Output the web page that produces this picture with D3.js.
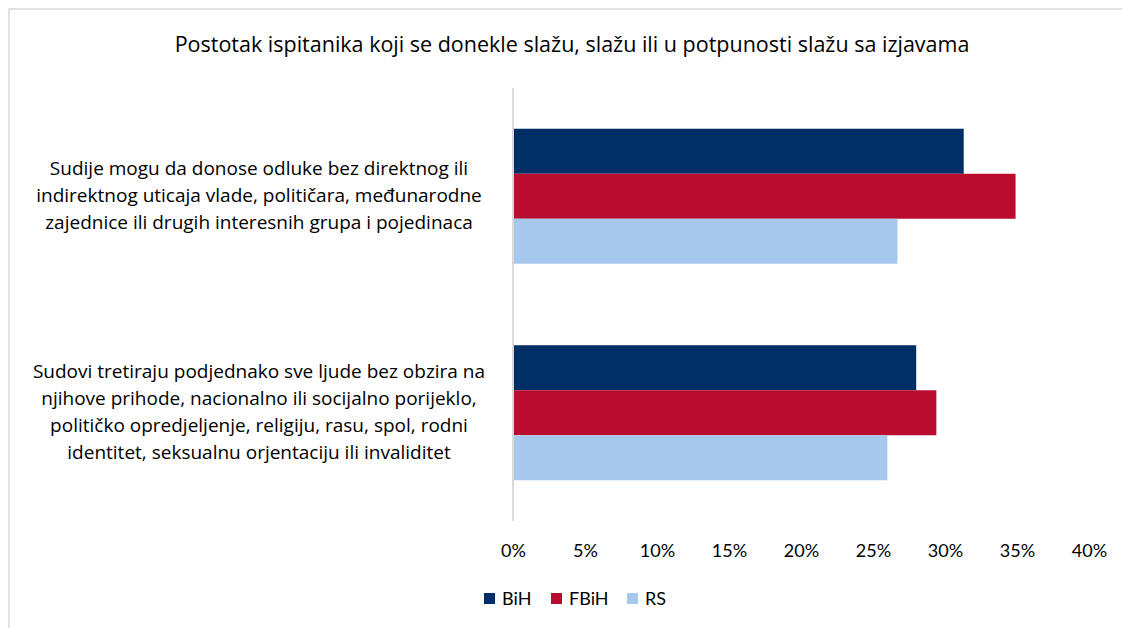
<!DOCTYPE html>
<html>
<head>
<meta charset="utf-8">
<script src="https://cdn.jsdelivr.net/npm/d3@7"></script>
<style>
  body { margin: 0; background: #fff; }
  text { font-family: "Open Sans", "Lato", sans-serif; fill: #000; }
</style>
</head>
<body>
<div id="chart"></div>
<script>
// podaci sa slike
var categories = [
  ["Sudije mogu da donose odluke bez direktnog ili",
   "indirektnog uticaja vlade, političara, međunarodne",
   "zajednice ili drugih interesnih grupa i pojedinaca"],
  ["Sudovi tretiraju podjednako sve ljude bez obzira na",
   "njihove prihode, nacionalno ili socijalno porijeklo,",
   "političko opredjeljenje, religiju, rasu, spol, rodni",
   "identitet, seksualnu orjentaciju ili invaliditet"]
];
var seriesNames = ["BiH", "FBiH", "RS"];
var seriesColors = ["#002e67", "#ba0c2f", "#a6c8ed"];
var valuesBiH = [31.3, 28.0];
var valuesFBiH = [34.9, 29.4];
var valuesRS = [26.7, 26.0];
var tickValues = [0, 5, 10, 15, 20, 25, 30, 35, 40];
var title = "Postotak ispitanika koji se donekle slažu, slažu ili u potpunosti slažu sa izjavama";

var width = 1122, height = 628;
var seriesValues = [valuesBiH, valuesFBiH, valuesRS];

var svg = d3.select("#chart").append("svg")
  .attr("width", width)
  .attr("height", height);

// okvir
svg.append("rect")
  .attr("x", 9).attr("y", 9)
  .attr("width", width + 10).attr("height", height)
  .attr("fill", "none")
  .attr("stroke", "#d9d9d9")
  .attr("stroke-width", 1.5);

svg.append("text")
  .attr("x", 572).attr("y", 52)
  .attr("text-anchor", "middle")
  .style("font-size", "21.5px")
  .text(title);

var x = d3.scaleLinear().domain([0, 40]).range([513, 1089]);
var y = d3.scaleBand().domain(d3.range(categories.length))
  .range([88, 521])
  .paddingInner(0.3764)
  .paddingOuter(0.1882);
var ySub = d3.scaleBand().domain(d3.range(seriesNames.length))
  .range([0, y.bandwidth()]);

// stupci
var groups = svg.selectAll("g.grp")
  .data(categories)
  .enter().append("g")
    .attr("class", "grp")
    .attr("transform", function(d, i) { return "translate(0," + y(i) + ")"; });

groups.selectAll("rect")
  .data(function(d, i) { return seriesValues.map(function(s, k) { return { k: k, v: s[i] }; }); })
  .enter().append("rect")
    .attr("x", x(0) + 1)
    .attr("y", function(d) { return ySub(d.k); })
    .attr("width", function(d) { return x(d.v) - x(0) - 1; })
    .attr("height", ySub.bandwidth())
    .attr("fill", function(d) { return seriesColors[d.k]; });

// oznake kategorija
groups.append("text")
  .attr("text-anchor", "middle")
  .style("font-size", "19px")
  .each(function(d) {
    var t = d3.select(this);
    var lh = 27;
    var y0 = y.bandwidth() / 2 - (d.length - 1) * lh / 2 + 6;
    d.forEach(function(line, j) {
      t.append("tspan")
        .attr("x", 259)
        .attr("y", y0 + j * lh)
        .text(line);
    });
  });

// os
svg.append("line")
  .attr("x1", x(0)).attr("x2", x(0))
  .attr("y1", 88).attr("y2", 521)
  .attr("stroke", "#d9d9d9")
  .attr("stroke-width", 2);

var xAxis = d3.axisBottom(x)
  .tickValues(tickValues)
  .tickSize(0)
  .tickPadding(0)
  .tickFormat(function(d) { return d + "%"; });

var ax = svg.append("g")
  .attr("transform", "translate(0,557)")
  .call(xAxis);
ax.select(".domain").remove();
ax.selectAll("text")
  .attr("dy", 0)
  .style("font-size", "18px")
  .style("font-family", "Lato, 'Open Sans', sans-serif");

// legenda
var legendX = [484, 551, 627];
var legend = svg.selectAll("g.leg")
  .data(seriesNames)
  .enter().append("g")
    .attr("class", "leg")
    .attr("transform", function(d, i) { return "translate(" + legendX[i] + ",593)"; });
legend.append("rect")
  .attr("width", 11).attr("height", 11)
  .attr("fill", function(d, i) { return seriesColors[i]; });
legend.append("text")
  .attr("x", 18).attr("y", 12)
  .style("font-size", "18px")
  .style("font-family", "Lato, 'Open Sans', sans-serif")
  .text(function(d) { return d; });
</script>
</body>
</html>
